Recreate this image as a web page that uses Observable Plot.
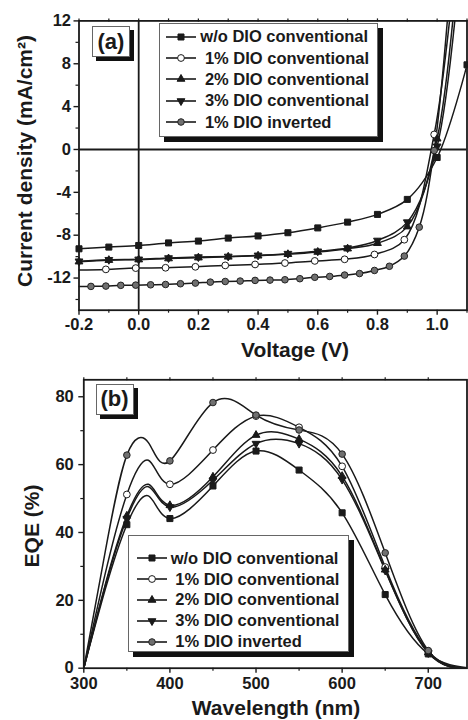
<!DOCTYPE html>
<html>
<head>
<meta charset="utf-8">
<script src="https://cdn.jsdelivr.net/npm/d3@7"></script>
<script src="https://cdn.jsdelivr.net/npm/@observablehq/plot@0.6"></script>
<style>
  body { margin: 0; background: #fff; }
  #root { position: relative; width: 468px; height: 720px; overflow: hidden;
          font-family: "Liberation Sans", Arial, Helvetica, sans-serif; font-weight: bold; color: #1a1a1a; }
  .panel { position: absolute; left: 0; }
  .title { position: absolute; font-size: 21px; white-space: nowrap; transform: translate(-50%, -50%); }
  .vtitle { transform: translate(-50%, -50%) rotate(-90deg); }
  .tag { position: absolute; box-sizing: border-box; border: 1px solid #666; background: #fff;
         box-shadow: 4px 4px 0 #111; font-size: 22px; display: flex; align-items: center; justify-content: center; }
  .legend { position: absolute; box-sizing: border-box; border: 1px solid #666; background: #fff; box-shadow: 5px 5px 0 #111; }
  .row { position: absolute; display: flex; align-items: center; font-size: 16.5px; white-space: pre; height: 20px; }
  .row svg { margin-right: 4px; }
</style>
</head>
<body>
<div id="root"></div>
<script>
// ---------------- Data: panel (a) J–V ----------------
const seriesNames = ["w/o DIO conventional", " 1% DIO conventional", " 2% DIO conventional", " 3% DIO conventional", " 1% DIO inverted"];

const voltageStd = [-0.2, -0.1, 0.0, 0.1, 0.2, 0.3, 0.4, 0.5, 0.6, 0.7, 0.8, 0.9, 1.0, 1.1];
const jNoDIO     = [-9.27, -9.11, -8.96, -8.72, -8.55, -8.27, -8.07, -7.77, -7.32, -6.78, -6.06, -4.66, -0.75, 7.9];
const j2DIO      = [-10.47, -10.33, -10.28, -10.18, -10.10, -10.02, -9.92, -9.78, -9.57, -9.26, -8.75, -7.2, 1.0, 28];
const j3DIO      = [-10.43, -10.29, -10.25, -10.13, -10.04, -9.98, -9.88, -9.72, -9.50, -9.20, -8.49, -6.78, 0.3, 25];

const voltage1DIO = [-0.21, -0.11, -0.01, 0.09, 0.19, 0.29, 0.39, 0.49, 0.59, 0.69, 0.79, 0.89, 0.99, 1.09];
const j1DIO       = [-11.25, -11.19, -11.07, -11.04, -10.95, -10.82, -10.73, -10.60, -10.40, -10.25, -9.80, -8.42, 1.4, 26];

const voltageInv = [-0.21, -0.16, -0.11, -0.06, -0.01, 0.04, 0.09, 0.14, 0.19, 0.24, 0.29, 0.34, 0.39, 0.44,
                    0.49, 0.54, 0.59, 0.64, 0.69, 0.74, 0.79, 0.84, 0.89, 0.94, 0.99, 1.04];
const jInv       = [-12.80, -12.78, -12.75, -12.68, -12.66, -12.63, -12.60, -12.53, -12.47, -12.38, -12.32, -12.28, -12.22, -12.19,
                    -12.16, -12.06, -11.93, -11.85, -11.72, -11.58, -11.29, -10.90, -9.95, -7.25, -0.1, 14];

const voltageTicks = [-0.2, 0.0, 0.2, 0.4, 0.6, 0.8, 1.0];
const voltageMinor = [-0.1, 0.1, 0.3, 0.5, 0.7, 0.9, 1.1];
const currentTicks = [-12, -8, -4, 0, 4, 8, 12];
const currentMinor = [-14, -10, -6, -2, 2, 6, 10];

// ---------------- Data: panel (b) EQE ----------------
// marked points (every 50 nm)
const wavelengths = [350, 400, 450, 500, 550, 600, 650, 700];
const eqeNoDIO = [42.3, 44.1, 53.7, 64.0, 58.4, 45.8, 21.7, 4.2];
const eqe1DIO  = [51.2, 54.2, 64.3, 74.3, 71.0, 59.5, 29.8, 5.0];
const eqe2DIO  = [44.9, 48.0, 56.4, 68.7, 67.5, 56.6, 29.0, 4.6];
const eqe3DIO  = [44.1, 47.5, 55.4, 66.2, 66.2, 55.6, 28.8, 4.5];
const eqeInv   = [62.8, 61.1, 78.3, 74.6, 70.2, 63.1, 34.0, 5.2];
// unmarked curve points: band edges, rising edge and the ~375 nm shoulder
const edgeWavelengths = [300, 750];
const edgeEqe = [0, 0];
const riseWavelength = 325;
const riseEqe = [23.3, 28.0, 24.7, 24.3, 34.5];
const shoulderWavelength = 375;
const shoulderEqe = [50.8, 61.3, 54.2, 53.5, 66.5];

const wavelengthTicks = [300, 400, 500, 600, 700];
const wavelengthMinor = [350, 450, 550, 650];
const eqeTicks = [0, 20, 40, 60, 80];
const eqeMinor = [10, 30, 50, 70];

// ---------------- Styles ----------------
const ink = "#1a1a1a";
const styles = [
  {symbol: "square",   r: 3.4, fill: ink,       stroke: ink,    rotate: 0},
  {symbol: "circle",   r: 3.4, fill: "#fff",    stroke: ink,    rotate: 0},
  {symbol: "triangle", r: 2.9, fill: ink,       stroke: ink,    rotate: 0},
  {symbol: "triangle", r: 2.9, fill: ink,       stroke: ink,    rotate: 180},
  {symbol: "circle",   r: 3.3, fill: "#707070", stroke: "#222", rotate: 0}
];

function rows(xs, ys) { return xs.map((x, i) => ({x, y: ys[i]})); }

const jvLines = [
  rows(voltageStd, jNoDIO),
  rows(voltage1DIO, j1DIO),
  rows(voltageStd, j2DIO),
  rows(voltageStd, j3DIO),
  rows(voltageInv, jInv)
];
const xDomA = [-0.2, 1.1], yDomA = [-15, 12];
const jvDots = jvLines.map(d => d.filter(p => p.x >= xDomA[0] - 1e-9 && p.x <= xDomA[1] + 1e-9 && p.y >= yDomA[0] && p.y <= yDomA[1]));

const eqeMarked = [eqeNoDIO, eqe1DIO, eqe2DIO, eqe3DIO, eqeInv].map(ys => rows(wavelengths, ys));
const eqeLines = eqeMarked.map((d, k) =>
  [...d, ...rows(edgeWavelengths, edgeEqe),
   {x: riseWavelength, y: riseEqe[k]}, {x: shoulderWavelength, y: shoulderEqe[k]}].sort((a, b) => a.x - b.x));

const font = '"Liberation Sans", Arial, Helvetica, sans-serif';

function seriesMarks(lines, dots, curve) {
  const marks = [];
  lines.forEach(d => marks.push(Plot.line(d, {x: "x", y: "y", curve, clip: true, stroke: ink, strokeWidth: 1.5})));
  dots.forEach((d, k) => {
    const s = styles[k];
    marks.push(Plot.dot(d, {x: "x", y: "y", symbol: s.symbol, r: s.r, fill: s.fill, stroke: s.stroke,
                            strokeWidth: 1, rotate: s.rotate}));
  });
  return marks;
}

function axes(xT, xM, yT, yM, xFmt, yFmt, xPad, yPad) {
  const common = {fontSize: 16.5, fontWeight: "bold", label: null, fill: ink};
  return [
    Plot.axisX(xT, {...common, tickSize: 5, tickPadding: xPad, tickFormat: xFmt, stroke: ink, strokeWidth: 1.4}),
    Plot.axisX(xM, {tickSize: 3, text: null, label: null, stroke: ink, strokeWidth: 1.2}),
    Plot.axisX([...xT, ...xM], {anchor: "top", tickSize: 3, text: null, label: null, stroke: ink, strokeWidth: 1.2}),
    Plot.axisY(yT, {...common, tickSize: 5, tickPadding: yPad, tickFormat: yFmt, stroke: ink, strokeWidth: 1.4}),
    Plot.axisY(yM, {tickSize: 3, text: null, label: null, stroke: ink, strokeWidth: 1.2})
  ];
}

const plotA = Plot.plot({
  width: 468, height: 362,
  marginLeft: 78.5, marginRight: 1.5, marginTop: 20.4, marginBottom: 52.3,
  x: {domain: xDomA, label: null},
  y: {domain: yDomA, label: null},
  style: {fontFamily: font, fontWeight: "bold", color: ink, background: "transparent", overflow: "visible"},
  marks: [
    Plot.ruleX([0], {stroke: ink, strokeWidth: 1.8}),
    Plot.ruleY([0], {stroke: ink, strokeWidth: 1.8}),
    ...seriesMarks(jvLines, jvDots, "catmull-rom"),
    Plot.frame({stroke: ink, strokeWidth: 1.8}),
    ...axes(voltageTicks, voltageMinor, currentTicks, currentMinor, d => d.toFixed(1), d => String(d), 3, 3)
  ]
});

const xDomB = [300, 745], yDomB = [0, 85];
const plotB = Plot.plot({
  width: 468, height: 358,
  marginLeft: 83.3, marginRight: 1.5, marginTop: 17.3, marginBottom: 52.3,
  x: {domain: xDomB, label: null},
  y: {domain: yDomB, label: null},
  style: {fontFamily: font, fontWeight: "bold", color: ink, background: "transparent", overflow: "visible"},
  marks: [
    ...seriesMarks(eqeLines, eqeMarked, "natural"),
    Plot.frame({stroke: ink, strokeWidth: 1.8}),
    ...axes(wavelengthTicks, wavelengthMinor, eqeTicks, eqeMinor, d => String(d), d => String(d), 4, 5)
  ]
});

const root = document.getElementById("root");
function place(el, top) {
  const wrap = document.createElement("div");
  wrap.className = "panel";
  wrap.style.top = top + "px";
  wrap.appendChild(el);
  root.appendChild(wrap);
}
place(plotA, 0);
place(plotB, 362);

function addDiv(cls, css, text) {
  const d = document.createElement("div");
  d.className = cls;
  Object.assign(d.style, css);
  if (text != null) d.textContent = text;
  root.appendChild(d);
  return d;
}

// Axis titles
addDiv("title vtitle", {left: "25px", top: "161px"}, "Current density (mA/cm\u00B2)");
addDiv("title", {left: "295px", top: "350px"}, "Voltage (V)");
addDiv("title vtitle", {left: "32px", top: "526px"}, "EQE (%)");
addDiv("title", {left: "276px", top: "708px"}, "Wavelength (nm)");

// Panel tags
addDiv("tag", {left: "92px", top: "26px", width: "38px", height: "31px"}, "(a)");
addDiv("tag", {left: "95.5px", top: "383.5px", width: "38px", height: "31px"}, "(b)");

// Legends
function sampleSvg(k) {
  const s = styles[k];
  const ns = "http://www.w3.org/2000/svg";
  const svg = document.createElementNS(ns, "svg");
  svg.setAttribute("width", 30); svg.setAttribute("height", 12);
  const line = document.createElementNS(ns, "line");
  line.setAttribute("x1", 0); line.setAttribute("x2", 30); line.setAttribute("y1", 6); line.setAttribute("y2", 6);
  line.setAttribute("stroke", ink); line.setAttribute("stroke-width", 1.6);
  svg.appendChild(line);
  const typeMap = {square: d3.symbolSquare, circle: d3.symbolCircle, triangle: d3.symbolTriangle};
  const p = document.createElementNS(ns, "path");
  p.setAttribute("d", d3.symbol(typeMap[s.symbol], Math.PI * s.r * s.r)());
  p.setAttribute("transform", `translate(15,6) rotate(${s.rotate})`);
  p.setAttribute("fill", s.fill); p.setAttribute("stroke", s.stroke); p.setAttribute("stroke-width", 1);
  svg.appendChild(p);
  return svg;
}
function legend(left, top, width, height, firstRow, step, sampleLeft) {
  const box = addDiv("legend", {left: left + "px", top: top + "px", width: width + "px", height: height + "px"});
  seriesNames.forEach((name, k) => {
    const r = document.createElement("div");
    r.className = "row";
    r.style.left = sampleLeft + "px";
    r.style.top = (firstRow + k * step - 10) + "px";
    r.appendChild(sampleSvg(k));
    const t = document.createElement("span");
    t.textContent = name;
    r.appendChild(t);
    box.appendChild(r);
  });
}
legend(159.3, 22.7, 218.4, 114, 13, 21.4, 6);
legend(128.3, 535, 221, 116.7, 22.3, 20.8, 7.4);
</script>
</body>
</html>
